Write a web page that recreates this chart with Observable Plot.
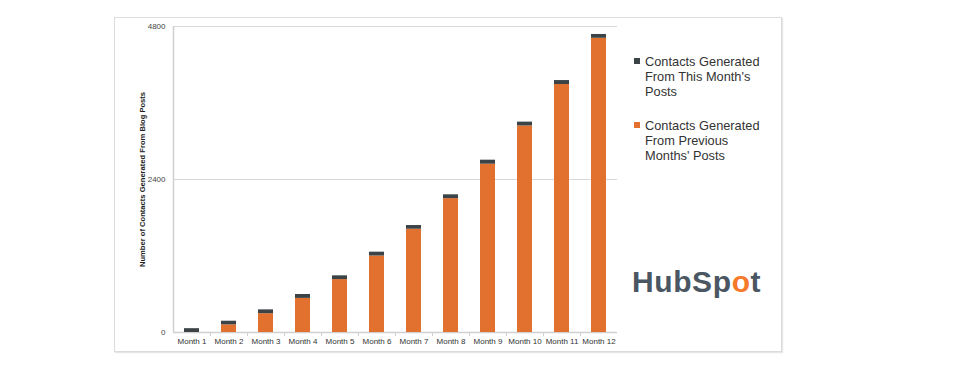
<!DOCTYPE html>
<html>
<head>
<meta charset="utf-8">
<script src="https://cdn.jsdelivr.net/npm/d3@7"></script>
<script src="https://cdn.jsdelivr.net/npm/@observablehq/plot@0.6"></script>
<style>
  html, body { margin: 0; padding: 0; background: #fff; }
  #wrap { position: relative; width: 954px; height: 367px; font-family: "Liberation Sans", Arial, sans-serif; }
  #frame { position: absolute; left: 114px; top: 17px; width: 666px; height: 333px; border: 1px solid #dcdcdc; box-shadow: 1px 1px 1px #e6e6e6; }
  #chart { position: absolute; left: 0; top: 0; }
  .legend { position: absolute; left: 634px; font-size: 12.8px; line-height: 15px; color: #333; }
  .legend .sw { position: absolute; left: 0; top: 4px; width: 6px; height: 6px; }
  .legend .tx { margin-left: 11px; white-space: nowrap; }
  #logo { position: absolute; left: 632px; top: 265px; font-size: 30px; font-weight: bold; letter-spacing: 0.6px; color: #4a5763; }
  #logo span { color: #f57a2a; }
</style>
</head>
<body>
<div id="wrap">
  <div id="frame"></div>
  <div id="chart"></div>
  <div id="legend"></div>
  <div id="logo">HubSp<span>o</span>t</div>
</div>
<script>
const months = ["Month 1","Month 2","Month 3","Month 4","Month 5","Month 6","Month 7","Month 8","Month 9","Month 10","Month 11","Month 12"];
const seriesNames = ["Contacts Generated From Previous Months' Posts", "Contacts Generated From This Month's Posts"];
const previousMonths = [0, 120, 295, 535, 830, 1200, 1620, 2100, 2640, 3240, 3890, 4615];
const thisMonth = [60, 57, 60, 61, 59, 60, 58, 60, 63, 60, 62, 60];
const yTicks = [0, 2400, 4800];
const colors = ["#e2702e", "#3c4346"];
const legendItems = [
  {name: seriesNames[1], lines: ["Contacts Generated", "From This Month's", "Posts"], color: colors[1], top: 54},
  {name: seriesNames[0], lines: ["Contacts Generated", "From Previous", "Months' Posts"], color: colors[0], top: 118}
];

const rows = [];
months.forEach((m, i) => {
  rows.push({month: m, series: seriesNames[0], value: previousMonths[i]});
  rows.push({month: m, series: seriesNames[1], value: thisMonth[i]});
});

const step = (954 - 173 - 337) / months.length;

const plot = Plot.plot({
  width: 954,
  height: 367,
  marginLeft: 173,
  marginRight: 337,
  marginTop: 26,
  marginBottom: 35,
  style: {fontFamily: "'Liberation Sans', Arial, sans-serif", background: "transparent"},
  x: {domain: months, paddingInner: 0.59, paddingOuter: 0.295, label: null},
  y: {domain: [0, 4800], label: null},
  color: {domain: seriesNames, range: colors},
  marks: [
    Plot.ruleY([2400, 4800], {stroke: "#d8d8d8", strokeWidth: 1}),
    Plot.ruleY([0], {stroke: "#d0d0d0", strokeWidth: 1.5}),
    Plot.ruleX([months[0]], {x: d => d, dx: -step / 2, stroke: "#d0d0d0", strokeWidth: 1.5}),
    Plot.ruleX(months.slice(1), {x: d => d, dx: -step / 2, y1: 0, y2: 0, insetBottom: -4, stroke: "#d0d0d0"}),
    Plot.barY(rows, {x: "month", y: "value", fill: "series", order: seriesNames}),
    Plot.axisX({tickSize: 0, tickPadding: 6, fontSize: 8, fill: "#333", label: null}),
    Plot.axisY({ticks: yTicks, tickFormat: d => String(d), tickSize: 0, tickPadding: 8, fontSize: 8, fill: "#444", label: null}),
    Plot.axisY({ticks: [], label: "Number of Contacts Generated From Blog Posts", labelAnchor: "center", labelOffset: 34, labelArrow: "none", fontSize: 7.6, fontWeight: "bold", fill: "#222"})
  ]
});
document.getElementById("chart").appendChild(plot);

const legend = document.getElementById("legend");
legendItems.forEach(it => {
  const div = document.createElement("div");
  div.className = "legend";
  div.style.top = it.top + "px";
  const sw = document.createElement("div");
  sw.className = "sw";
  sw.style.background = it.color;
  div.appendChild(sw);
  const tx = document.createElement("div");
  tx.className = "tx";
  tx.innerHTML = it.lines.join("<br>");
  div.appendChild(tx);
  legend.appendChild(div);
});
</script>
</body>
</html>
